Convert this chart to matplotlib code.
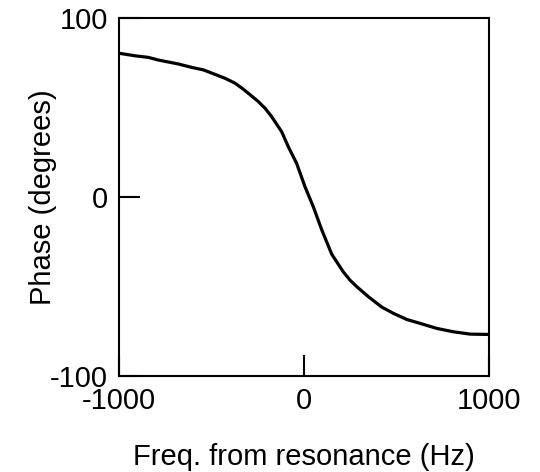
import matplotlib
matplotlib.use('Agg')
import matplotlib.pyplot as plt

plt.rcParams['font.family'] = ['Liberation Sans', 'DejaVu Sans']
plt.rcParams['axes.unicode_minus'] = False

# phase response
freq = [-1000, -908, -842, -787, -679, -607, -544, -481, -427, -373, -328,
        -290, -247, -210, -175, -121, -85, -40, 5, 50, 96, 150, 212, 249,
        285, 321, 348, 420, 483, 555, 627, 717, 807, 897, 1000]
phase = [80.3, 78.8, 78.0, 76.5, 74.3, 72.4, 71.0, 68.5, 66.3, 63.6, 60.2,
         57.0, 53.3, 49.5, 44.9, 36.5, 28.1, 18.8, 5.8, -5.4, -18.4, -32.0,
         -41.8, -46.5, -50.1, -53.3, -55.7, -61.5, -65.0, -68.4, -70.6,
         -73.4, -75.3, -76.6, -76.8]

x_ticks = [-1000, 0, 1000]
y_ticks = [-100, 0, 100]

fig = plt.figure(figsize=(5.4, 4.72), dpi=100)
ax = fig.add_axes([0.2204, 0.2034, 0.6852, 0.7585])

ax.plot(freq, phase, color='black', linewidth=2.3)

ax.set_xlim(-1000, 1000)
ax.set_ylim(-100, 100)
ax.set_xticks(x_ticks)
ax.set_yticks(y_ticks)
ax.tick_params(direction='in', length=15, width=1.5, labelsize=21, pad=8)

for s in ax.spines.values():
    s.set_linewidth(1.5)

ax.set_xlabel('Freq. from resonance (Hz)', fontsize=21, labelpad=20)
ax.set_ylabel('Phase (degrees)', fontsize=21, labelpad=-5)

fig.savefig('out.png', dpi=100)
